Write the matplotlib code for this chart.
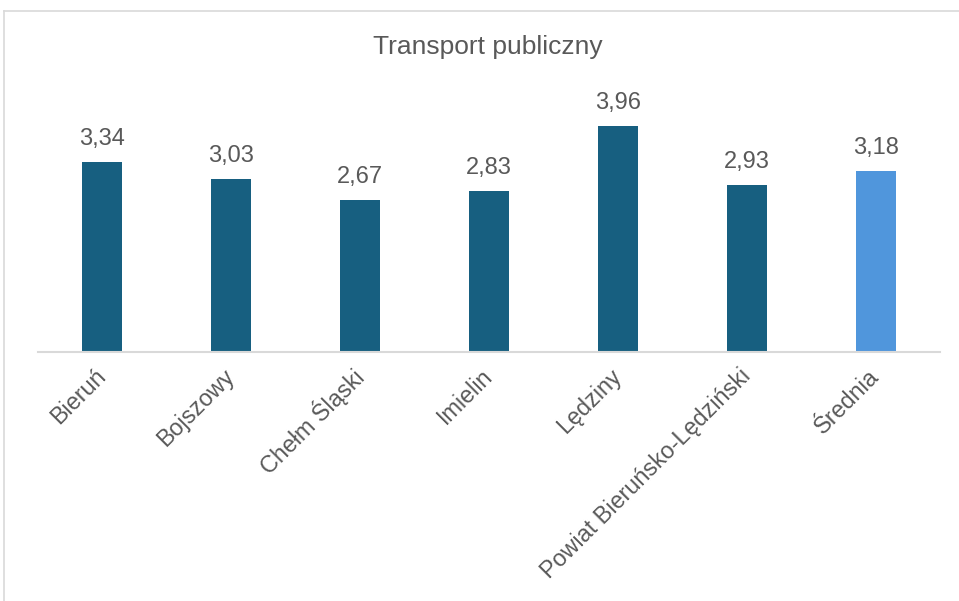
import matplotlib
matplotlib.use("Agg")
import matplotlib.pyplot as plt
from matplotlib.lines import Line2D

categories = ["Bieruń", "Bojszowy", "Chełm Śląski", "Imielin", "Lędziny",
              "Powiat Bieruńsko-Lędziński", "Średnia"]
values = [3.34, 3.03, 2.67, 2.83, 3.96, 2.93, 3.18]
title = "Transport publiczny"

dark = "#175f80"
light = "#5096dc"
colors = [dark] * 6 + [light]
text_col = "#595959"

plt.rcParams['font.family'] = ['Liberation Sans', 'DejaVu Sans']

W, H = 959, 601
fig = plt.figure(figsize=(W / 100, H / 100), dpi=100)
ax = fig.add_axes([38 / W, 1 - 352 / H, (940 - 38) / W, 256.5 / H])

x = list(range(len(categories)))
bars = ax.bar(x, values, width=0.31, color=colors, zorder=2)
ax.set_xlim(-0.5, len(categories) - 0.5)
ax.set_ylim(0, 4.5)

for xi, v in zip(x, values):
    ax.annotate(f"{v:.2f}".replace(".", ","), (xi, v), xytext=(0, 8.5),
                textcoords="offset points", ha="center", va="bottom",
                fontsize=17, color=text_col)

ax.set_xticks(x)
ax.set_xticklabels(categories, rotation=45, ha="right", va="center",
                   rotation_mode="anchor", fontsize=16.8, color=text_col)
ax.tick_params(axis="x", length=0, pad=15)
ax.set_yticks([])
for s in ["top", "right", "left"]:
    ax.spines[s].set_visible(False)
ax.spines["bottom"].set_color("#d9d9d9")
ax.spines["bottom"].set_linewidth(1.5)

fig.text(488 / W, 1 - 47 / H, title, ha="center", va="center",
         fontsize=19, color=text_col)

# outer chart frame
fig.add_artist(Line2D([4 / W, 4 / W], [0, 1 - 10.5 / H], transform=fig.transFigure,
                      color="#d9d9d9", lw=1.2))
fig.add_artist(Line2D([4 / W, 1], [1 - 10.5 / H, 1 - 10.5 / H], transform=fig.transFigure,
                      color="#d9d9d9", lw=1.2))

fig.savefig("out.png", dpi=100, facecolor="white")
